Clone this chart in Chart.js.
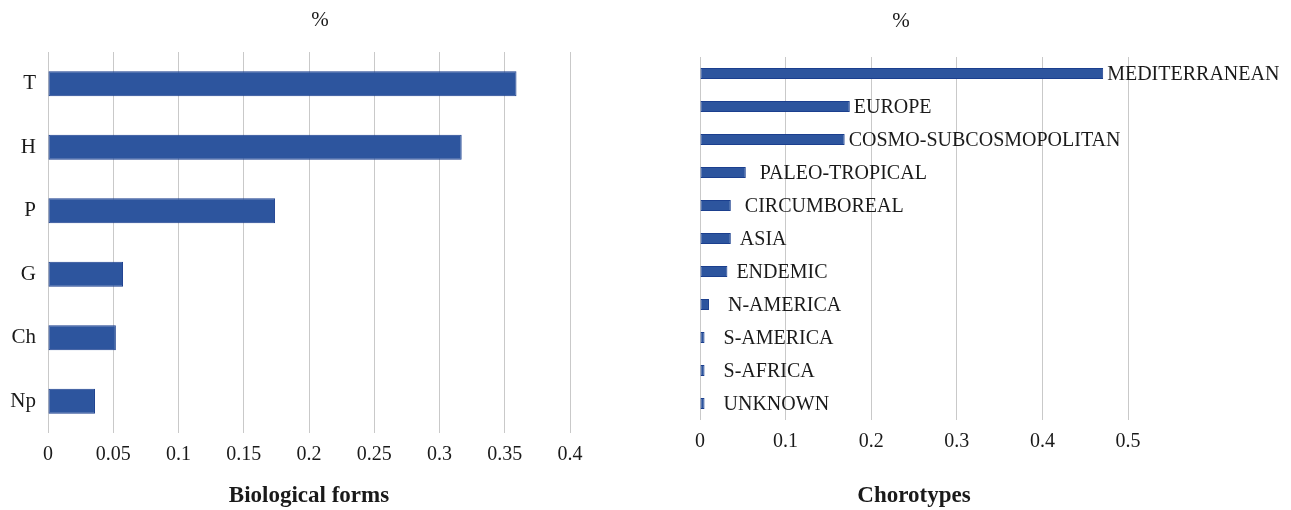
<!DOCTYPE html>
<html>
<head>
<meta charset="utf-8">
<script src="https://cdn.jsdelivr.net/npm/chart.js@4/dist/chart.umd.min.js"></script>
<style>
    body { margin: 0; background: #fff; }
    canvas { position: absolute; top: 0; }
    #formas { left: 0; }
    #corotipos { left: 640px; }
</style>
</head>
<body>
<canvas id="formas" width="640" height="510"></canvas>
<canvas id="corotipos" width="651" height="510"></canvas>
<script>
// biological forms
const formas = ['T', 'H', 'P', 'G', 'Ch', 'Np'];
const formasValores = [0.359, 0.317, 0.174, 0.0575, 0.052, 0.036];
const formasTicks = [0, 0.05, 0.1, 0.15, 0.2, 0.25, 0.3, 0.35, 0.4];

// chorotypes (leading spaces are part of the label text, as in the original)
const corotipos = ['MEDITERRANEAN', 'EUROPE', 'COSMO-SUBCOSMOPOLITAN', '  PALEO-TROPICAL', '  CIRCUMBOREAL',
    ' ASIA', ' ENDEMIC', '   N-AMERICA', '   S-AMERICA', '   S-AFRICA', '   UNKNOWN'];
const corotiposValores = [0.471, 0.175, 0.169, 0.0535, 0.036, 0.036, 0.032, 0.0105, 0.0053, 0.0053, 0.0053];
const corotiposTicks = [0, 0.1, 0.2, 0.3, 0.4, 0.5];

const serif = '"Liberation Serif", "Times New Roman", serif';
const texto = '#1a1a1a';
const azul = '#2D559E';
const borde = '#1B3F8E';
const rejilla = '#c9c9c9';

function fmt(v) {
    return String(+Number(v).toFixed(2));
}

const etiquetasBarras = {
    id: 'etiquetasBarras',
    afterDatasetsDraw(chart) {
        let ctx = chart.ctx;
        let meta = chart.getDatasetMeta(0);
        ctx.save();
        ctx.font = `20px ${serif}`;
        ctx.fillStyle = texto;
        ctx.textAlign = 'left';
        ctx.textBaseline = 'middle';
        meta.data.forEach((bar, i) => {
            ctx.fillText(chart.data.labels[i], bar.x + 4, bar.y + 1);
        });
        ctx.restore();
    }
};

function graphBarras(context, cfg) {
    return new Chart(context, {
        type: 'bar',
        data: {
            labels: cfg.labels,
            datasets: [{
                data: cfg.data,
                backgroundColor: azul,
                borderColor: borde,
                borderWidth: 1,
                borderSkipped: false,
                barPercentage: cfg.barPct,
                categoryPercentage: 1,
            }]
        },
        options: {
            indexAxis: 'y',
            responsive: false,
            animation: false,
            devicePixelRatio: 1,
            layout: {padding: {left: 0, right: cfg.padRight, top: 0, bottom: 0}},
            plugins: {
                legend: {display: false},
                tooltip: {enabled: false},
                title: {
                    display: true,
                    text: '%',
                    color: texto,
                    font: {family: serif, size: 21, weight: 'normal'},
                    padding: cfg.titlePad,
                }
            },
            scales: {
                x: {
                    type: 'linear',
                    min: cfg.ticks[0],
                    max: cfg.ticks[cfg.ticks.length - 1],
                    afterBuildTicks: s => { s.ticks = cfg.ticks.map(v => ({value: v})); },
                    afterFit: s => { s.height = cfg.xHeight; },
                    grid: {color: rejilla, lineWidth: 1, drawTicks: false},
                    border: {display: false},
                    ticks: {
                        color: texto,
                        padding: 10,
                        font: {family: serif, size: 20},
                        callback: v => fmt(v),
                    },
                    title: {
                        display: true,
                        text: cfg.nombre,
                        color: texto,
                        font: {family: serif, size: 23, weight: 'bold'},
                        padding: {top: 0, bottom: 0},
                    }
                },
                y: {
                    afterFit: s => { s.width = cfg.yWidth; },
                    grid: {display: false, drawTicks: false},
                    border: {display: false},
                    ticks: {
                        display: cfg.yTicks,
                        color: texto,
                        padding: 12,
                        font: {family: serif, size: 21},
                    }
                },
                relleno: {
                    type: 'linear',
                    position: 'right',
                    afterFit: s => { s.width = cfg.rightWidth; },
                    grid: {display: false, drawTicks: false},
                    border: {display: false},
                    ticks: {display: false},
                }
            }
        },
        plugins: cfg.plugins || []
    });
}

graphBarras(document.getElementById('formas').getContext('2d'), {
    labels: formas,
    data: formasValores,
    ticks: formasTicks,
    nombre: 'Biological forms',
    barPct: 0.39,
    padRight: 0,
    yWidth: 48,
    rightWidth: 70,
    xHeight: 77,
    yTicks: true,
    titlePad: {top: 8, bottom: 18.8},
});

graphBarras(document.getElementById('corotipos').getContext('2d'), {
    labels: corotipos,
    data: corotiposValores,
    ticks: corotiposTicks,
    nombre: 'Chorotypes',
    barPct: 0.33,
    padRight: 129,
    yWidth: 60,
    rightWidth: 34,
    xHeight: 90,
    yTicks: false,
    titlePad: {top: 8.5, bottom: 23.3},
    plugins: [etiquetasBarras],
});
</script>
</body>
</html>
